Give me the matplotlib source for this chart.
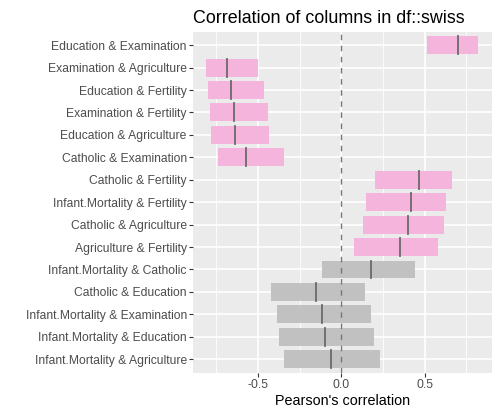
import matplotlib.pyplot as plt
import numpy as np

plt.rcParams['font.family'] = ['Liberation Sans', 'DejaVu Sans']

# top to bottom as drawn
pairs = ['Education & Examination', 'Examination & Agriculture', 'Education & Fertility',
         'Examination & Fertility', 'Education & Agriculture', 'Catholic & Examination',
         'Catholic & Fertility', 'Infant.Mortality & Fertility', 'Catholic & Agriculture',
         'Agriculture & Fertility', 'Infant.Mortality & Catholic', 'Catholic & Education',
         'Infant.Mortality & Examination', 'Infant.Mortality & Education',
         'Infant.Mortality & Agriculture']
estimate = [0.698, -0.687, -0.664, -0.646, -0.640, -0.573, 0.464, 0.417, 0.401, 0.353,
            0.175, -0.154, -0.114, -0.099, -0.061]
ci_low = [0.514, -0.813, -0.799, -0.787, -0.783, -0.739, 0.204, 0.148, 0.129, 0.073,
          -0.118, -0.423, -0.388, -0.375, -0.342]
ci_high = [0.821, -0.498, -0.466, -0.440, -0.432, -0.342, 0.663, 0.629, 0.617, 0.582,
           0.440, 0.139, 0.179, 0.194, 0.230]
significant = [True] * 10 + [False] * 5

fig = plt.figure(figsize=(4.99, 4.18), dpi=100)
ax = fig.add_axes([0.3874, 0.1084, 0.598, 0.8158])
ax.set_facecolor('#EBEBEB')

n = len(pairs)
ypos = np.arange(n, 0, -1)

# grid
for x in [-0.75, -0.25, 0.25, 0.75]:
    ax.axvline(x, color='white', lw=0.6, zorder=0)
for x in [-0.5, 0, 0.5]:
    ax.axvline(x, color='white', lw=1.2, zorder=0)
for y in ypos:
    ax.axhline(y, color='white', lw=1.2, zorder=0)

for y, lo, hi, est, sig in zip(ypos, ci_low, ci_high, estimate, significant):
    col = '#F4B4DC' if sig else '#C1C1C1'
    ax.barh(y, hi - lo, left=lo, height=0.8, color=col, zorder=2)
    ax.plot([est, est], [y - 0.4, y + 0.4], color='#6A6A6A', lw=1.3, zorder=3)

ax.axvline(0, color='#6E7885', lw=1.0, ls=(0, (4, 4)), zorder=4)

ax.set_xlim(-0.888, 0.902)
ax.set_ylim(0.4, n + 0.6)
ax.set_xticks([-0.5, 0, 0.5])
ax.set_xticklabels(['-0.5', '0.0', '0.5'])
ax.set_yticks(ypos)
ax.set_yticklabels(pairs)
for s in ax.spines.values():
    s.set_visible(False)
ax.tick_params(axis='both', colors='#333333', labelcolor='#4D4D4D', labelsize=8.7,
               length=2.7, width=0.8, pad=2)
ax.set_xlabel("Pearson's correlation", fontsize=10.4, color='black', labelpad=2)
ax.set_title('Correlation of columns in df::swiss', fontsize=12.9, loc='left', pad=6)

fig.savefig('out.png', dpi=100)
